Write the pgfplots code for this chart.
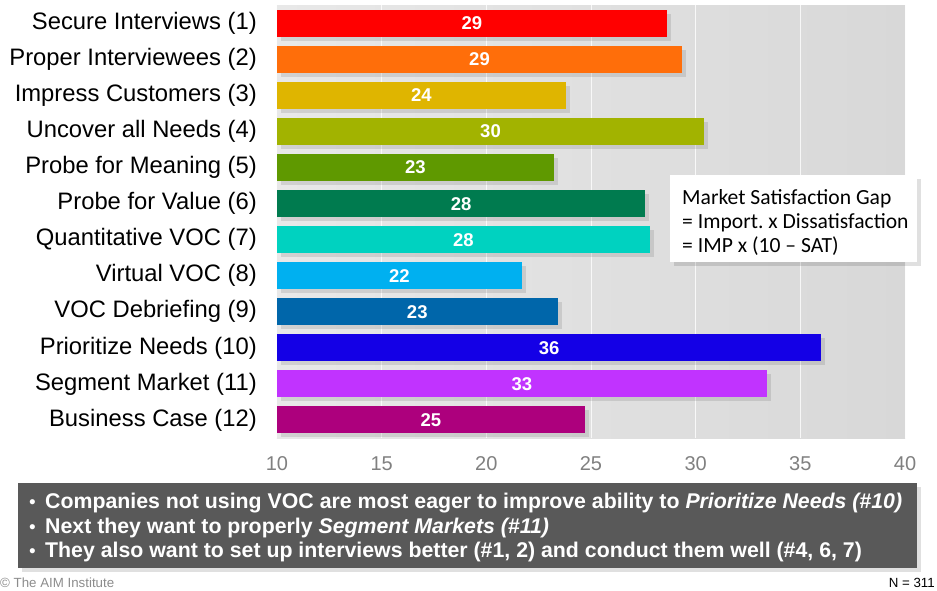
\documentclass[border=0pt]{standalone}
\usepackage{fontspec}
\setmainfont{Liberation Sans}
\newfontfamily\calibri{Carlito}
\usepackage{pgfplots}
\pgfplotsset{compat=1.18}
\definecolor{c1}{HTML}{FF0000}
\definecolor{c2}{HTML}{FF6E0A}
\definecolor{c3}{HTML}{DFB500}
\definecolor{c4}{HTML}{A2B300}
\definecolor{c5}{HTML}{5F9900}
\definecolor{c6}{HTML}{007B4F}
\definecolor{c7}{HTML}{00D2C0}
\definecolor{c8}{HTML}{00B0F0}
\definecolor{c9}{HTML}{0066AA}
\definecolor{c10}{HTML}{1400E6}
\definecolor{c11}{HTML}{C133FF}
\definecolor{c12}{HTML}{AD007D}
\definecolor{bgL}{HTML}{E8E8E8}
\definecolor{bgR}{HTML}{D8D8D8}
\definecolor{tickgray}{HTML}{808080}
\definecolor{boxgray}{HTML}{595959}
\definecolor{footgray}{HTML}{8C8C8C}
\frenchspacing
\begin{document}
\begin{tikzpicture}
\path[use as bounding box] (0,0) rectangle (937pt,-590pt);
\begin{axis}[
  at={(277pt,-438pt)}, anchor=south west,
  scale only axis, width=628pt, height=432.6pt,
  xbar,
  xmin=10, xmax=40, ymin=0.5, ymax=12.5, y dir=reverse,
  xtick={10,15,20,25,30,35,40},
  ytick={1,2,3,4,5,6,7,8,9,10,11,12},
  yticklabels={Secure Interviews (1), Proper Interviewees (2), Impress Customers (3), Uncover all Needs (4), Probe for Meaning (5), Probe for Value (6), Quantitative VOC (7), Virtual VOC (8), VOC Debriefing (9), Prioritize Needs (10), Segment Market (11), Business Case (12)},
  axis line style={draw=none}, major tick length=0pt,
  xmajorgrids, grid style={white, line width=1pt, opacity=0.8},
  axis background/.style={left color=bgL, right color=bgR},
  /pgf/number format/assume math mode=true,
  yticklabel style={font=\fontsize{23.8}{23.8}\selectfont, anchor=east, inner sep=0pt, xshift=-20pt},
  xticklabel style={font=\fontsize{20}{20}\selectfont, text=tickgray, anchor=base, inner sep=0pt, yshift=-32pt},
  every axis plot/.append style={bar width=27pt, bar shift=0pt, draw=none,
     preaction={fill=black, fill opacity=0.10, transform canvas={shift={(4pt,-4pt)}}}},
  point meta=x,
  visualization depends on={x \as \rawx},
  nodes near coords={\pgfmathprintnumber[fixed,precision=0]{\pgfplotspointmeta}},
  every node near coord/.append style={anchor=center, text=white, font=\bfseries\fontsize{18.5}{18.5}\selectfont, xshift={-(\rawx-10)*10.46667}},
]
\addplot[fill=c1] coordinates {(28.63,1)};
\addplot[fill=c2] coordinates {(29.35,2)};
\addplot[fill=c3] coordinates {(23.8,3)};
\addplot[fill=c4] coordinates {(30.4,4)};
\addplot[fill=c5] coordinates {(23.23,5)};
\addplot[fill=c6] coordinates {(27.6,6)};
\addplot[fill=c7] coordinates {(27.8,7)};
\addplot[fill=c8] coordinates {(21.7,8)};
\addplot[fill=c9] coordinates {(23.4,9)};
\addplot[fill=c10] coordinates {(36.0,10)};
\addplot[fill=c11] coordinates {(33.4,11)};
\addplot[fill=c12] coordinates {(24.7,12)};
\end{axis}
% formula box
\fill[black, opacity=0.12] (674pt,-179pt) rectangle (921pt,-266pt);
\fill[white] (670pt,-175pt) rectangle (917pt,-262pt);
\node[anchor=base west, inner sep=0pt] at (682pt,-204pt) {\calibri\fontsize{21.6}{21.6}\selectfont Market Satisfaction Gap};
\node[anchor=base west, inner sep=0pt] at (682pt,-228pt) {\calibri\fontsize{21.6}{21.6}\selectfont = Import. x Dissatisfaction};
\node[anchor=base west, inner sep=0pt] at (682pt,-252pt) {\calibri\fontsize{21.6}{21.6}\selectfont = IMP x (10 – SAT)};
% bottom box
\fill[black, opacity=0.12] (22pt,-487pt) rectangle (921pt,-572pt);
\fill[boxgray] (18pt,-483pt) rectangle (917pt,-568pt);
\foreach \yy in {508,533,557} {\node[anchor=base west, inner sep=0pt, text=white] at (29pt,-\yy pt) {\fontsize{19}{19}\selectfont •};}
\node[anchor=base west, inner sep=0pt, text=white] at (45pt,-508pt) {\bfseries\fontsize{21.3}{21.3}\selectfont Companies not using VOC are most eager to improve ability to \textit{Prioritize Needs (\#10)}};
\node[anchor=base west, inner sep=0pt, text=white] at (45pt,-533pt) {\bfseries\fontsize{21.3}{21.3}\selectfont Next they want to properly \textit{Segment Markets (\#11)}};
\node[anchor=base west, inner sep=0pt, text=white] at (45pt,-557pt) {\bfseries\fontsize{21.3}{21.3}\selectfont They also want to set up interviews better (\#1, 2) and conduct them well (\#4, 6, 7)};
% footer
\node[anchor=base west, inner sep=0pt, text=footgray] at (0pt,-587pt) {\fontsize{13.3}{13.3}\selectfont © The AIM Institute};
\node[anchor=base east, inner sep=0pt] at (935pt,-587pt) {\fontsize{13.3}{13.3}\selectfont N = 311};
\end{tikzpicture}
\end{document}
